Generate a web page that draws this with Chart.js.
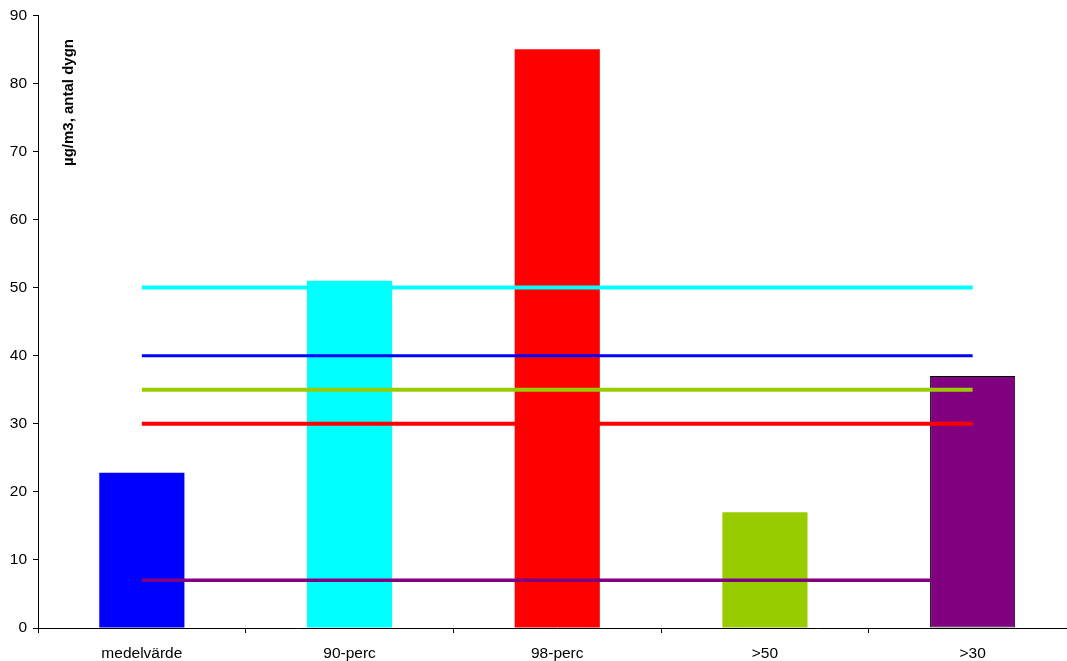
<!DOCTYPE html>
<html>
<head>
<meta charset="utf-8">
<script src="https://cdn.jsdelivr.net/npm/chart.js@4/dist/chart.umd.min.js"></script>
<style>
  html, body { margin: 0; padding: 0; background: #fff; overflow: hidden; }
  #wrap { position: relative; width: 1080px; height: 661px; }
</style>
</head>
<body>
<div id="wrap"><canvas id="chart"></canvas></div>
<script>
// kategorier och värden
const categories = ["medelvärde", "90-perc", "98-perc", ">50", ">30"];
const barValues = [22.8, 51, 85, 17, 37];
const barColors = ["#0000FF", "#00FFFF", "#FF0000", "#99CC00", "#800080"];

// gränsvärden (horisontella linjer)
const limitCyan = [50, 50, 50, 50, 50];
const limitBlue = [40, 40, 40, 40, 40];
const limitGreen = [35, 35, 35, 35, 35];
const limitRed = [30, 30, 30, 30, 30];
const limitPurple = [7, 7, 7, 7, 7];

const yTitle = "µg/m3, antal dygn";
const FONT = "Arial, 'Liberation Sans', Helvetica, sans-serif";

function limitLine(data, color, width) {
    return {
        type: "line",
        data: data,
        borderColor: color,
        borderWidth: width,
        pointRadius: 0,
        fill: false,
        order: 1
    };
}

// y-axelns titel inne i diagrammet
const titlePlugin = {
    id: "yTitle",
    afterDraw(chart) {
        const ctx = chart.ctx;
        ctx.save();
        ctx.translate(69, 102.5);
        ctx.rotate(-Math.PI / 2);
        ctx.font = "bold 15px " + FONT;
        ctx.fillStyle = "#000";
        ctx.textAlign = "center";
        ctx.textBaseline = "middle";
        ctx.fillText(yTitle, 0, 0);
        ctx.restore();
    }
};

new Chart(document.getElementById("chart").getContext("2d"), {
    type: "bar",
    data: {
        labels: categories,
        datasets: [
            {
                type: "bar",
                data: barValues,
                backgroundColor: barColors,
                borderColor: "#000",
                // bara sista stapeln (>30) har svart kant
                borderWidth: (c) => (c.dataIndex === categories.length - 1 ? 1 : 0),
                borderSkipped: false,
                barPercentage: 0.41,
                categoryPercentage: 1,
                order: 2
            },
            limitLine(limitPurple, "#800080", 3.5),
            limitLine(limitRed, "#FF0000", 4),
            limitLine(limitGreen, "#99CC00", 4),
            limitLine(limitBlue, "#0000FF", 3),
            limitLine(limitCyan, "#00FFFF", 4)
        ]
    },
    options: {
        animation: false,
        responsive: true,
        maintainAspectRatio: false,
        layout: { padding: { top: 15, right: 3.5, left: 0, bottom: 0 } },
        plugins: {
            legend: { display: false },
            tooltip: { enabled: false }
        },
        scales: {
            x: {
                grid: {
                    offset: true,
                    drawOnChartArea: false,
                    drawTicks: true,
                    tickLength: 5,
                    color: "#000"
                },
                border: { color: "#000", width: 1 },
                ticks: {
                    color: "#000",
                    font: { family: FONT, size: 15.5 },
                    padding: 11,
                    maxRotation: 0
                },
                afterFit(scale) { scale.height = 33; }
            },
            y: {
                min: 0,
                max: 90,
                ticks: {
                    stepSize: 10,
                    color: "#000",
                    font: { family: FONT, size: 15.5 },
                    padding: 6
                },
                grid: {
                    drawOnChartArea: false,
                    drawTicks: true,
                    tickLength: 5,
                    color: "#000"
                },
                border: { color: "#000", width: 1 },
                afterFit(scale) { scale.width = 38; }
            }
        }
    },
    plugins: [titlePlugin]
});
</script>
</body>
</html>
